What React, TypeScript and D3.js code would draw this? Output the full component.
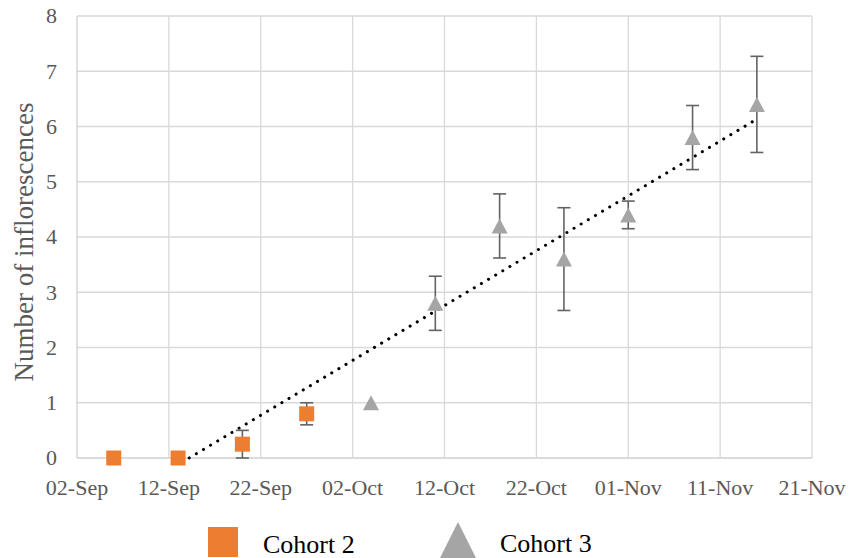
import React, { useEffect, useRef } from 'react';
import * as d3 from 'd3';

const cohort2Dates = ['2019-09-06', '2019-09-13', '2019-09-20', '2019-09-27'];
const cohort2Values = [0, 0, 0.25, 0.8];
const cohort2Errors = [0, 0, 0.25, 0.2];

const cohort3Dates = ['2019-10-04', '2019-10-11', '2019-10-18', '2019-10-25', '2019-11-01', '2019-11-08', '2019-11-15'];
const cohort3Values = [1.0, 2.8, 4.2, 3.6, 4.4, 5.8, 6.4];
const cohort3Errors = [0, 0.49, 0.58, 0.93, 0.25, 0.58, 0.87];

const yTicks = [0, 1, 2, 3, 4, 5, 6, 7, 8];
const xStart = '2019-09-02';
const xEnd = '2019-11-21';
const tickStepDays = 10;

const legendLabels = ['Cohort 2', 'Cohort 3'];

interface Pt {
  date: Date;
  value: number;
  err: number;
}

const parse = d3.timeParse('%Y-%m-%d');
const toPts = (dates: string[], vals: number[], errs: number[]): Pt[] =>
  dates.map((d, i) => ({ date: parse(d)!, value: vals[i], err: errs[i] }));

const c2 = toPts(cohort2Dates, cohort2Values, cohort2Errors);
const c3 = toPts(cohort3Dates, cohort3Values, cohort3Errors);

const FONT = "'Liberation Serif', 'Times New Roman', Times, serif";

const App: React.FC = () => {
  const svgRef = useRef<SVGSVGElement>(null);

  useEffect(() => {
    if (!svgRef.current) return;
    const width = 851;
    const height = 558;
    const margin = { top: 16, right: 39, bottom: 100, left: 77 };
    const innerW = width - margin.left - margin.right;
    const innerH = height - margin.top - margin.bottom;

    const svg = d3.select(svgRef.current);
    svg.selectAll('*').remove();

    const start = parse(xStart)!;
    const end = parse(xEnd)!;
    const x = d3.scaleTime().domain([start, end]).range([0, innerW]);
    const y = d3.scaleLinear().domain([0, 8]).range([innerH, 0]);

    const nDays = d3.timeDay.count(start, end);
    const xTicks = d3.range(0, nDays + 1, tickStepDays).map((d) => d3.timeDay.offset(start, d));

    const g = svg.append('g').attr('transform', `translate(${margin.left},${margin.top})`);

    // grid
    g.append('g')
      .selectAll('line')
      .data(yTicks)
      .join('line')
      .attr('x1', 0)
      .attr('x2', innerW)
      .attr('y1', (d) => y(d))
      .attr('y2', (d) => y(d))
      .attr('stroke', (d) => (d === 0 ? '#cfcfcf' : '#d9d9d9'))
      .attr('stroke-width', 1.3);

    g.append('g')
      .selectAll('line')
      .data(xTicks)
      .join('line')
      .attr('x1', (d) => x(d))
      .attr('x2', (d) => x(d))
      .attr('y1', 0)
      .attr('y2', innerH)
      .attr('stroke', (d, i) => (i === 0 ? '#cfcfcf' : '#d9d9d9'))
      .attr('stroke-width', 1.3);

    // tick labels
    const fmt = d3.timeFormat('%d-%b');
    g.append('g')
      .selectAll('text')
      .data(xTicks)
      .join('text')
      .attr('x', (d) => x(d))
      .attr('y', innerH + 37)
      .attr('text-anchor', 'middle')
      .style('font-family', FONT)
      .style('font-size', '22px')
      .attr('fill', '#595959')
      .text((d) => fmt(d));

    g.append('g')
      .selectAll('text')
      .data(yTicks)
      .join('text')
      .attr('x', -20)
      .attr('y', (d) => y(d))
      .attr('dy', '0.33em')
      .attr('text-anchor', 'end')
      .style('font-family', FONT)
      .style('font-size', '22px')
      .attr('fill', '#595959')
      .text((d) => d);

    svg
      .append('text')
      .attr('transform', 'rotate(-90)')
      .attr('x', -242)
      .attr('y', 33)
      .attr('text-anchor', 'middle')
      .style('font-family', FONT)
      .style('font-size', '27px')
      .attr('fill', '#595959')
      .text('Number of inflorescences');

    // trendline: linear least squares over all points, clipped at y = 0
    const all = [...c2, ...c3];
    const xs = all.map((p) => d3.timeDay.count(start, p.date));
    const ys = all.map((p) => p.value);
    const mx = d3.mean(xs)!;
    const my = d3.mean(ys)!;
    const slope =
      d3.sum(xs.map((v, i) => (v - mx) * (ys[i] - my))) / d3.sum(xs.map((v) => (v - mx) * (v - mx)));
    const icpt = my - slope * mx;
    const x0 = Math.max(xs[0], -icpt / slope);
    const x1 = xs[xs.length - 1];
    const trend: [number, number][] = [
      [x0, icpt + slope * x0],
      [x1, icpt + slope * x1],
    ];
    g.append('path')
      .attr(
        'd',
        d3
          .line<[number, number]>()
          .x((d) => x(d3.timeHour.offset(start, d[0] * 24)))
          .y((d) => y(d[1]))(trend)
      )
      .attr('fill', 'none')
      .attr('stroke', '#000')
      .attr('stroke-width', 3)
      .attr('stroke-linecap', 'round')
      .attr('stroke-dasharray', '0.1 8.2');

    // error bars
    const errLayer = g.append('g');
    all
      .filter((p) => p.err > 0)
      .forEach((p) => {
        const cx = x(p.date);
        const lo = y(p.value - p.err);
        const hi = y(p.value + p.err);
        errLayer
          .append('line')
          .attr('x1', cx)
          .attr('x2', cx)
          .attr('y1', lo)
          .attr('y2', hi)
          .attr('stroke', '#636363')
          .attr('stroke-width', 1.6);
        [lo, hi].forEach((yy) =>
          errLayer
            .append('line')
            .attr('x1', cx - 6.5)
            .attr('x2', cx + 6.5)
            .attr('y1', yy)
            .attr('y2', yy)
            .attr('stroke', '#636363')
            .attr('stroke-width', 1.6)
        );
      });

    // markers
    const sq = 15;
    g.append('g')
      .selectAll('rect')
      .data(c2)
      .join('rect')
      .attr('x', (d) => x(d.date) - sq / 2)
      .attr('y', (d) => y(d.value) - sq / 2)
      .attr('width', sq)
      .attr('height', sq)
      .attr('fill', '#ED7D31');

    const tri = (cx: number, cy: number, w: number, h: number) =>
      `M${cx},${cy - h / 2}L${cx + w / 2},${cy + h / 2}L${cx - w / 2},${cy + h / 2}Z`;

    g.append('g')
      .selectAll('path')
      .data(c3)
      .join('path')
      .attr('d', (d) => tri(x(d.date), y(d.value), 16, 15))
      .attr('fill', '#A5A5A5');

    // legend
    const leg = svg.append('g');
    leg.append('rect').attr('x', 208).attr('y', 527).attr('width', 30).attr('height', 30).attr('fill', '#ED7D31');
    leg
      .append('text')
      .attr('x', 263)
      .attr('y', 553)
      .style('font-family', FONT)
      .style('font-size', '26px')
      .attr('fill', '#000')
      .text(legendLabels[0]);
    leg.append('path').attr('d', tri(458, 540, 36, 36)).attr('fill', '#A5A5A5');
    leg
      .append('text')
      .attr('x', 500)
      .attr('y', 552)
      .style('font-family', FONT)
      .style('font-size', '26px')
      .attr('fill', '#000')
      .text(legendLabels[1]);
  }, []);

  return (
    <svg
      ref={svgRef}
      width={851}
      height={558}
      style={{ position: 'absolute', left: 0, top: 0, background: '#fff' }}
    />
  );
};

export default App;
